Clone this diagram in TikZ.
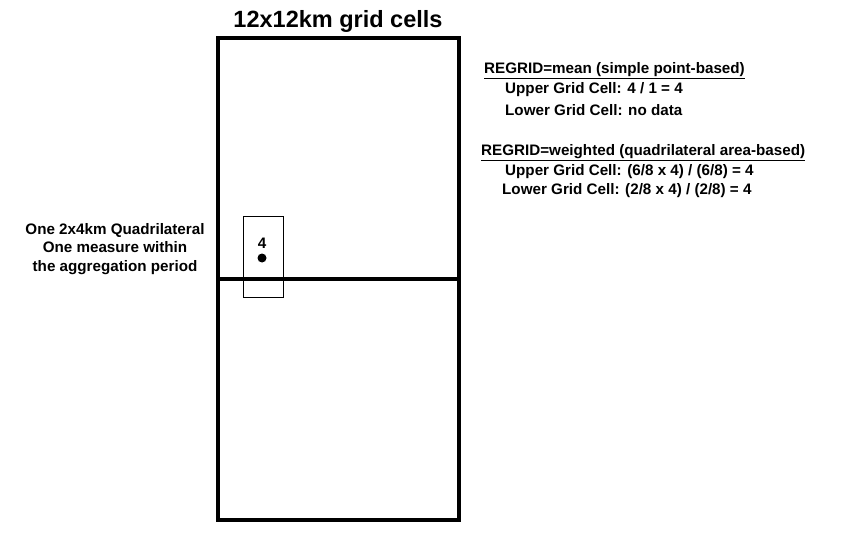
\documentclass[tikz,border=0pt]{standalone}
\usepackage{fontspec}
\setmainfont{Liberation Sans}
\begin{document}
\begin{tikzpicture}[x=1pt,y=-1pt,
  txt/.style={font=\bfseries\fontsize{15.2}{17}\selectfont,inner sep=0pt},
  thick4/.style={line width=4pt}]
\useasboundingbox (0,0) rectangle (858,553);
\node[font=\bfseries\fontsize{23.5}{27}\selectfont] (title) at (338,21) {12x12km grid cells};
\draw[thick4] (218,38) rectangle (459,520);
\coordinate (ml) at (218,279); \coordinate (mr) at (459,279);
\draw[thick4] (ml) -- (mr);
\draw[line width=1pt] (243,217) rectangle (283,297);
\node[txt] (v) at (262,243) {4};
\fill (262,258) circle (4.5);
\node[txt,align=center] (left) at (115,249) {One 2x4km Quadrilateral\\[1.5pt]One measure within\\[1.5pt]the aggregation period};
\node[txt,anchor=west] (h1) at (484,71) {\underline{REGRID=mean (simple point-based)}};
\node[txt,anchor=west] (a1) at (505,90) {Upper Grid Cell: 4 / 1 = 4};
\node[txt,anchor=west] (a2) at (505,110) {Lower Grid Cell: no data};
\node[txt,anchor=west] (h2) at (481,153) {\underline{REGRID=weighted (quadrilateral area-based)}};
\node[txt,anchor=west] (b1) at (505,172) {Upper Grid Cell: (6/8 x 4) / (6/8) = 4};
\node[txt,anchor=west] (b2) at (502,191) {Lower Grid Cell: (2/8 x 4) / (2/8) = 4};
\end{tikzpicture}
\end{document}
